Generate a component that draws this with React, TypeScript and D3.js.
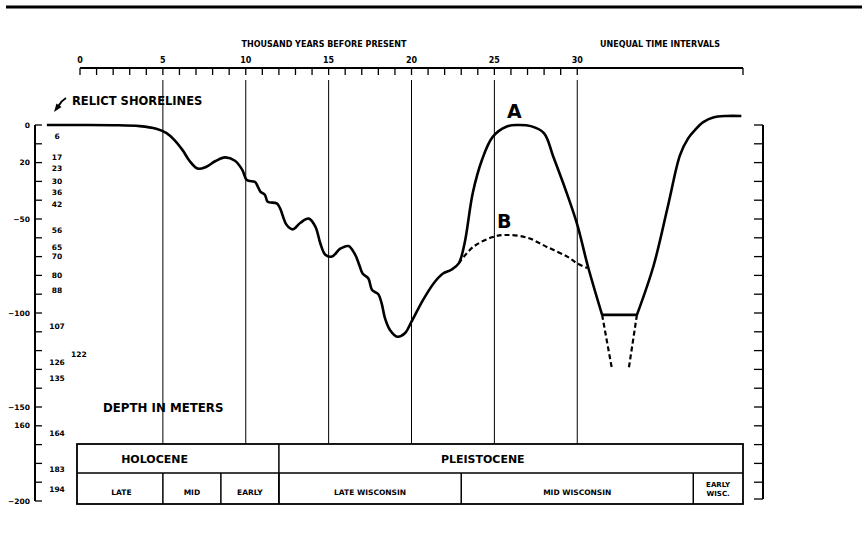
import * as d3 from "d3";

// time axis (thousand years before present); beyond 30 the intervals are unequal
const yearTicks = d3.range(0, 31);
const yearLabels = [0, 5, 10, 15, 20, 25, 30];
const gridYears = [5, 10, 15, 20, 25, 30];

// depth axis (meters)
const depthTicks = d3.range(0, 201, 10);
const outerDepths = [0, 20, 50, 100, 150, 160, 200];
const outerDepthText = ["0", "20", "\u221250", "\u2212100", "\u2212150", "160", "\u2212200"];
const shorelineDepths = [6, 17, 23, 30, 36, 42, 56, 65, 70, 80, 88, 107, 126, 135, 164, 183, 194];
const offsetShorelineDepths = [122];

// curve A (solid) : [kyr, depth m]
const curveA: [number, number][] = [
  [-2, 0], [0, 0], [2, 0.1], [3.6, 0.6], [4.6, 2], [5.2, 4.2], [5.7, 8], [6.2, 13.5],
  [6.6, 19], [7.1, 23.2], [7.6, 22.3], [8.15, 19.3], [8.75, 17.2], [9.35, 19], [9.8, 24],
  [10.06, 29.3], [10.56, 30.3], [10.72, 32.6], [10.88, 35.4], [11.16, 37.2], [11.32, 40.8],
  [11.87, 41.7], [12.07, 44.3], [12.47, 53.2], [12.84, 55.5], [13.3, 52], [13.8, 49.8],
  [14.2, 54], [14.5, 63], [14.8, 69], [15.2, 70], [15.7, 65.8], [16.2, 64.4], [16.6, 69],
  [16.85, 74.5], [17.05, 79], [17.4, 81.6], [17.62, 87.8], [18.0, 90], [18.2, 94.9],
  [18.4, 102.8], [18.7, 109], [19.15, 112.6], [19.6, 110.8], [20.0, 104.6], [20.7, 93],
  [21.4, 83.5], [21.9, 79], [22.4, 77], [22.85, 73.6], [23.2, 63], [23.7, 36], [24.25, 18.6],
  [24.9, 6.3], [25.75, 0.8], [26.4, 0], [27.2, 0.6], [28, 4.4], [28.55, 16.8], [29.3, 34.6],
  [30.0, 53], [30.65, 75.4], [31.5, 101],
];
const curveAFlat: [number, number][] = [[31.5, 101], [33.6, 101]];
const curveARight: [number, number][] = [
  [33.6, 101], [34.6, 75], [35.5, 42], [36.2, 16], [36.7, 7], [37.1, 2.7], [37.6, -1.5],
  [38.2, -4], [39, -4.8], [39.9, -4.8],
];
// curve B (dashed)
const curveB: [number, number][] = [
  [22.85, 73.6], [23.7, 65], [24.9, 59.6], [25.75, 58.5], [27, 60], [28.2, 65],
  [29.4, 70], [30, 73.6], [30.6, 76],
];
const troughLeft: [number, number][] = [[31.5, 101], [32.1, 130]];
const troughRight: [number, number][] = [[33.6, 101], [33.1, 130]];

// time-stratigraphic units
const epochNames = ["HOLOCENE", "PLEISTOCENE"];
const epochStart = [0, 12];
const epochEnd = [12, 40];
const epochLabelAt = [4.5, 24.3];
const stageNames = ["LATE", "MID", "EARLY", "LATE WISCONSIN", "MID WISCONSIN", "EARLY|WISC."];
const stageStart = [0, 5, 8.5, 12, 23, 37];
const stageEnd = [5, 8.5, 12, 23, 37, 40];

const W = 862;
const H = 538;
const FONT = "'DejaVu Sans', 'Liberation Sans', Arial, sans-serif";

export default function App() {
  const x = d3.scaleLinear().domain([0, 40]).range([80, 743]);
  const y = d3.scaleLinear().domain([0, 200]).range([125, 501]);

  const smooth = d3
    .line<[number, number]>()
    .x((d) => x(d[0]))
    .y((d) => y(d[1]))
    .curve(d3.curveCatmullRom.alpha(0.5));
  const straight = d3
    .line<[number, number]>()
    .x((d) => x(d[0]))
    .y((d) => y(d[1]));

  const axisY = 68;
  const leftX = 35;
  const rightX = 763;
  const boxTop = 444;
  const boxMid = 473;
  const boxBottom = 504;
  const boxLeft = x(0) - 3;

  return (
    <svg
      width={W}
      height={H}
      style={{ position: "absolute", left: 0, top: 0, background: "#fff" }}
      fontFamily={FONT}
      fontWeight="bold"
    >
      <rect width={W} height={H} fill="#fff" />
      {/* top rule */}
      <line x1={6} x2={W} y1={7} y2={7} stroke="#000" strokeWidth={3} />

      {/* top time axis */}
      <text x={324} y={47} fontSize={8} textAnchor="middle">THOUSAND YEARS BEFORE PRESENT</text>
      <text x={660} y={47} fontSize={8} textAnchor="middle">UNEQUAL TIME INTERVALS</text>
      <line x1={x(0)} x2={x(40)} y1={axisY} y2={axisY} stroke="#000" strokeWidth={2} />
      {yearTicks.map((t) => (
        <line key={t} x1={x(t)} x2={x(t)} y1={axisY} y2={axisY + 7} stroke="#000" strokeWidth={1.3} />
      ))}
      <line x1={x(40)} x2={x(40)} y1={axisY} y2={axisY + 7} stroke="#000" strokeWidth={1.3} />
      {yearLabels.map((t) => (
        <text key={t} x={x(t)} y={63} fontSize={8} textAnchor="middle">{t}</text>
      ))}

      {/* vertical reference lines */}
      {gridYears.map((t) => (
        <line key={t} x1={x(t)} x2={x(t)} y1={80} y2={boxTop} stroke="#000" strokeWidth={1} />
      ))}

      {/* left depth axis */}
      <line x1={leftX} x2={leftX} y1={y(0)} y2={y(200)} stroke="#000" strokeWidth={2} />
      {depthTicks.map((d) => (
        <line key={d} x1={leftX} x2={leftX + 7} y1={y(d)} y2={y(d)} stroke="#000" strokeWidth={1.3} />
      ))}
      {outerDepths.map((d, i) => (
        <text key={d} x={30} y={y(d)} dy="0.35em" fontSize={7.5} textAnchor="end">{outerDepthText[i]}</text>
      ))}
      {shorelineDepths.map((d) => (
        <text key={d} x={57} y={y(d)} dy="0.35em" fontSize={7.5} textAnchor="middle">{d}</text>
      ))}
      {offsetShorelineDepths.map((d) => (
        <text key={d} x={71} y={y(d)} dy="0.35em" fontSize={7.5} textAnchor="start">{d}</text>
      ))}

      {/* right depth axis */}
      <line x1={rightX} x2={rightX} y1={y(0)} y2={y(200) - 2} stroke="#000" strokeWidth={2} />
      {depthTicks.map((d) => (
        <line key={d} x1={rightX - 9} x2={rightX} y1={Math.min(y(d), y(200) - 2)} y2={Math.min(y(d), y(200) - 2)} stroke="#000" strokeWidth={1.3} />
      ))}

      {/* annotations */}
      <path d="M66,98 Q61,101 58.5,106" fill="none" stroke="#000" strokeWidth={2} />
      <path d="M54,112 L56.5,103.5 L61.5,107 Z" fill="#000" />
      <text x={72} y={105} fontSize={11.5}>RELICT SHORELINES</text>
      <text x={103} y={412} fontSize={11.8}>DEPTH IN METERS</text>

      {/* curves */}
      <path d={smooth(curveA) || ""} fill="none" stroke="#000" strokeWidth={2.6} strokeLinejoin="round" />
      <path d={straight(curveAFlat) || ""} fill="none" stroke="#000" strokeWidth={2.6} />
      <path d={smooth(curveARight) || ""} fill="none" stroke="#000" strokeWidth={2.6} strokeLinejoin="round" />
      <path d={smooth(curveB) || ""} fill="none" stroke="#000" strokeWidth={2.2} strokeDasharray="5,3" />
      <path d={straight(troughLeft) || ""} fill="none" stroke="#000" strokeWidth={2.2} strokeDasharray="5,3" />
      <path d={straight(troughRight) || ""} fill="none" stroke="#000" strokeWidth={2.2} strokeDasharray="5,3" />
      <text x={x(26.2)} y={y(0) - 7} fontSize={19} textAnchor="middle">A</text>
      <text x={x(25.6)} y={y(58.5) - 7} fontSize={19} textAnchor="middle">B</text>

      {/* stratigraphic table */}
      <rect x={boxLeft} y={boxTop} width={x(40) - boxLeft} height={boxBottom - boxTop} fill="none" stroke="#000" strokeWidth={1.8} />
      <line x1={boxLeft} x2={x(40)} y1={boxMid} y2={boxMid} stroke="#000" strokeWidth={1.5} />
      {epochNames.map((n, i) => (
        <g key={n}>
          {i > 0 && <line x1={x(epochStart[i])} x2={x(epochStart[i])} y1={boxTop} y2={boxBottom} stroke="#000" strokeWidth={1.5} />}
          <text x={x(epochLabelAt[i])} y={463} fontSize={11} textAnchor="middle">{n}</text>
        </g>
      ))}
      {stageNames.map((n, i) => {
        const cx = (x(stageStart[i]) + x(stageEnd[i])) / 2;
        const parts = n.split("|");
        return (
          <g key={n}>
            {i > 0 && <line x1={x(stageStart[i])} x2={x(stageStart[i])} y1={boxMid} y2={boxBottom} stroke="#000" strokeWidth={1.5} />}
            {parts.length === 1 ? (
              <text x={cx} y={495} fontSize={7.5} textAnchor="middle">{n}</text>
            ) : (
              parts.map((p, j) => (
                <text key={p} x={cx} y={487 + j * 9} fontSize={7} textAnchor="middle">{p}</text>
              ))
            )}
          </g>
        );
      })}
    </svg>
  );
}
